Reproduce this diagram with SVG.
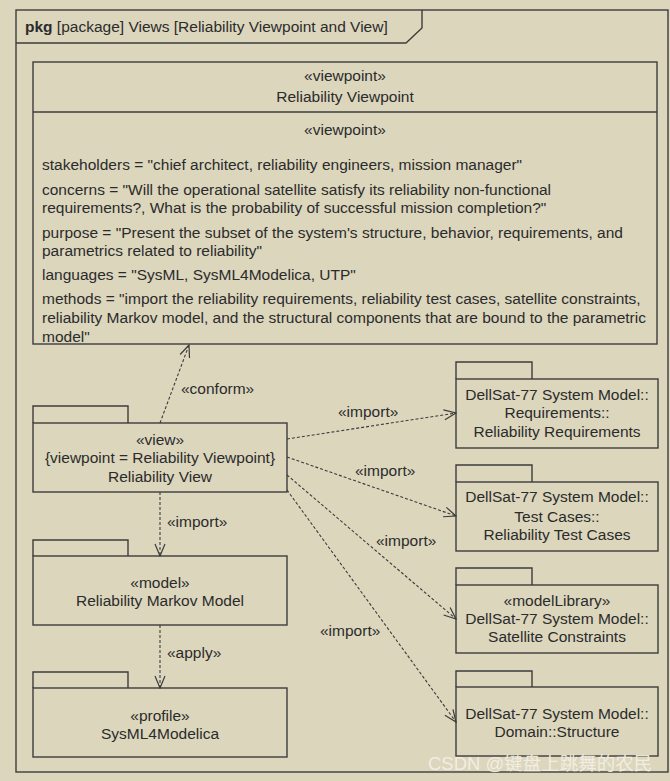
<svg xmlns="http://www.w3.org/2000/svg" width="670" height="781" viewBox="0 0 670 781">
<defs>
<style>
.t{font-family:"Liberation Sans",Arial,Helvetica,sans-serif;font-size:15.5px;fill:#2b2b2b}
.c{text-anchor:middle}
.box{fill:none;stroke:#3c3c3c;stroke-width:1.4}
.dep{fill:none;stroke:#3c3c3c;stroke-width:1.1;stroke-dasharray:3,2}
.wm{font-family:"Liberation Sans","Noto Sans CJK SC",sans-serif;font-size:18.5px;fill:#f4f1e6;opacity:0.9}
</style>
<marker id="open" viewBox="0 0 14 12" refX="13" refY="6" markerWidth="14" markerHeight="12" markerUnits="userSpaceOnUse" orient="auto">
<path d="M1,1 L13,6 L1,11" fill="none" stroke="#3c3c3c" stroke-width="1.2"/>
</marker>
</defs>
<rect width="670" height="781" fill="#dcd6bd"/>
<g id="frame">
<rect class="box" x="16" y="10" width="652" height="762"/>
<path class="box" d="M16,43 H406 L422,28 V10"/>
<text class="t" x="25" y="32"><tspan font-weight="bold">pkg</tspan> [package] Views [Reliability Viewpoint and View]</text>
</g>
<g id="viewpoint">
<rect class="box" x="33" y="62" width="624" height="282"/>
<line class="box" x1="33" y1="112" x2="657" y2="112"/>
<text class="t c" x="345" y="81">«viewpoint»</text>
<text class="t c" x="345" y="102">Reliability Viewpoint</text>
<text class="t c" x="345" y="135">«viewpoint»</text>
<text class="t" x="42" y="170">stakeholders = "chief architect, reliability engineers, mission manager"</text>
<text class="t" x="42" y="195">concerns = "Will the operational satellite satisfy its reliability non-functional</text>
<text class="t" x="42" y="213">requirements?, What is the probability of successful mission completion?"</text>
<text class="t" x="42" y="238">purpose = "Present the subset of the system's structure, behavior, requirements, and</text>
<text class="t" x="42" y="256">parametrics related to reliability"</text>
<text class="t" x="42" y="280">languages = "SysML, SysML4Modelica, UTP"</text>
<text class="t" x="42" y="304">methods = "import the reliability requirements, reliability test cases, satellite constraints,</text>
<text class="t" x="42" y="323">reliability Markov model, and the structural components that are bound to the parametric</text>
<text class="t" x="42" y="342">model"</text>
</g>
<g id="view">
<path class="box" d="M33,423 V406 H128 V423"/>
<rect class="box" x="33" y="423" width="254" height="69"/>
<text class="t c" x="160" y="445">«view»</text>
<text class="t c" x="160" y="463">{viewpoint = Reliability Viewpoint}</text>
<text class="t c" x="160" y="482">Reliability View</text>
</g>
<g id="markov">
<path class="box" d="M33,556 V540 H128 V556"/>
<rect class="box" x="33" y="556" width="254" height="69"/>
<text class="t c" x="160" y="588">«model»</text>
<text class="t c" x="160" y="606">Reliability Markov Model</text>
</g>
<g id="profile">
<path class="box" d="M33,688 V672 H128 V688"/>
<rect class="box" x="33" y="688" width="254" height="69"/>
<text class="t c" x="160" y="721">«profile»</text>
<text class="t c" x="160" y="739">SysML4Modelica</text>
</g>
<g id="requirements">
<path class="box" d="M456,379 V362 H532 V379"/>
<rect class="box" x="456" y="379" width="202" height="69"/>
<text class="t c" x="557" y="400">DellSat-77 System Model::</text>
<text class="t c" x="557" y="418">Requirements::</text>
<text class="t c" x="557" y="437">Reliability Requirements</text>
</g>
<g id="testcases">
<path class="box" d="M456,482 V465 H532 V482"/>
<rect class="box" x="456" y="482" width="202" height="69"/>
<text class="t c" x="557" y="502">DellSat-77 System Model::</text>
<text class="t c" x="557" y="522">Test Cases::</text>
<text class="t c" x="557" y="540">Reliability Test Cases</text>
</g>
<g id="constraints">
<path class="box" d="M456,585 V568 H532 V585"/>
<rect class="box" x="456" y="585" width="202" height="68"/>
<text class="t c" x="557" y="606">«modelLibrary»</text>
<text class="t c" x="557" y="624">DellSat-77 System Model::</text>
<text class="t c" x="557" y="642">Satellite Constraints</text>
</g>
<g id="structure">
<path class="box" d="M456,687 V671 H532 V687"/>
<rect class="box" x="456" y="687" width="202" height="69"/>
<text class="t c" x="557" y="719">DellSat-77 System Model::</text>
<text class="t c" x="557" y="737">Domain::Structure</text>
</g>
<g id="connectors">
<line class="dep" x1="160" y1="423" x2="189" y2="345" marker-end="url(#open)"/>
<text class="t" x="181" y="394">«conform»</text>
<line class="dep" x1="160" y1="492" x2="160" y2="556" marker-end="url(#open)"/>
<text class="t" x="167" y="527">«import»</text>
<line class="dep" x1="160" y1="625" x2="160" y2="688" marker-end="url(#open)"/>
<text class="t" x="167" y="658">«apply»</text>
<line class="dep" x1="287" y1="439" x2="456" y2="413" marker-end="url(#open)"/>
<text class="t" x="338" y="417">«import»</text>
<line class="dep" x1="287" y1="457" x2="456" y2="516" marker-end="url(#open)"/>
<text class="t" x="355" y="476">«import»</text>
<line class="dep" x1="287" y1="475" x2="456" y2="619" marker-end="url(#open)"/>
<text class="t" x="376" y="546">«import»</text>
<line class="dep" x1="287" y1="490" x2="456" y2="722" marker-end="url(#open)"/>
<text class="t" x="320" y="636">«import»</text>
</g>
<text class="wm" x="428" y="770">CSDN @键盘上跳舞的农民</text>
</svg>
